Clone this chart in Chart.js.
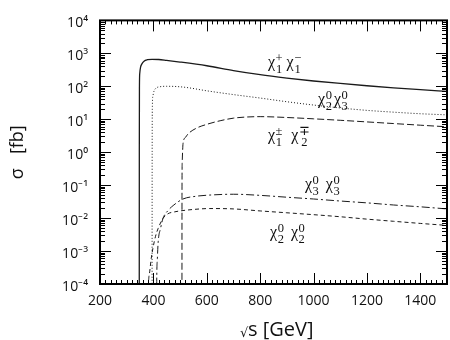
<!DOCTYPE html>
<html><head><meta charset="utf-8">
<script src="https://cdn.jsdelivr.net/npm/chart.js@4/dist/chart.umd.min.js"></script>
<style>html,body{margin:0;padding:0;background:#fff;}#wrap{width:450px;height:340px;}</style>
</head><body><div id="wrap"><canvas id="c" width="450" height="340"></canvas></div>
<script>
// ---- data ----
const xTickValues = [200, 400, 600, 800, 1000, 1200, 1400];
const yTickValues = [1e-4, 1e-3, 1e-2, 1e-1, 1e0, 1e1, 1e2, 1e3, 1e4];

const sqrtS_c1pc1m = [347, 347.3, 347.8, 349, 352, 357, 365, 378, 395, 420, 450, 500, 600, 700, 800, 900, 1000, 1100, 1200, 1300, 1400, 1500];
const sigma_c1pc1m = [1e-6, 1, 100, 250, 380, 480, 580, 640, 660, 650, 610, 545, 420, 300, 225, 178, 145, 122, 104, 90, 79, 70];

const sqrtS_c20c30 = [395, 395.3, 396, 398, 402, 410, 425, 450, 480, 520, 600, 700, 800, 900, 1000, 1100, 1200, 1300, 1400, 1500];
const sigma_c20c30 = [1e-6, 0.1, 20, 50, 70, 88, 97, 100, 99, 93, 73, 56, 44, 34, 27, 22, 18.6, 16.4, 14.7, 13.6];

const sqrtS_c1pmc2mp = [507, 507.2, 508, 511, 520, 530, 560, 600, 650, 700, 750, 800, 900, 1000, 1100, 1200, 1300, 1400, 1500];
const sigma_c1pmc2mp = [1e-6, 0.05, 0.5, 1.8, 2.8, 3.6, 5.3, 7, 9, 10.8, 11.7, 12, 11.3, 10.3, 9.3, 8.3, 7.4, 6.6, 5.9];

const sqrtS_c30c30 = [411, 412.5, 415, 418, 427, 436, 455, 474, 511, 560, 611, 700, 800, 900, 1000, 1100, 1200, 1300, 1400, 1500];
const sigma_c30c30 = [1e-6, 1.2e-4, 6e-4, 0.0019, 0.0049, 0.0098, 0.017, 0.024, 0.038, 0.046, 0.050, 0.053, 0.049, 0.043, 0.038, 0.033, 0.029, 0.025, 0.022, 0.019];

const sqrtS_c20c20 = [380, 381, 385, 392, 399, 408, 418, 436, 455, 480, 500, 550, 611, 700, 800, 900, 1000, 1100, 1200, 1300, 1400, 1500];
const sigma_c20c20 = [1e-6, 5e-5, 2e-4, 6e-4, 0.0013, 0.0028, 0.0049, 0.0098, 0.0136, 0.0155, 0.0165, 0.0183, 0.0195, 0.019, 0.0165, 0.0145, 0.0127, 0.011, 0.0093, 0.008, 0.0069, 0.006];

// ---- curve labels: [sup, sub] per chi ----
const curveLabels = [
  { at: [829, 383],   gap: 4, parts: [['+', '1'], ['\u2212', '1']] },
  { at: [1017, 28.9], gap: 2, parts: [['0', '2'], ['0', '3']] },
  { at: [829, 2.34],  gap: 9, parts: [['\u00b1', '1'], ['\u2213', '2']] },
  { at: [968, 0.078], gap: 7, parts: [['0', '3'], ['0', '3']] },
  { at: [837, 0.0026], gap: 7, parts: [['0', '2'], ['0', '2']] }
];

function pts(xs, ys) { return xs.map((x, i) => ({ x: x, y: ys[i] })); }
const supMap = { '0': '\u2070', '1': '\u00b9', '2': '\u00b2', '3': '\u00b3', '4': '\u2074', '-': '\u207b' };
function sup(s) { return s.split('').map(c => supMap[c] || c).join(''); }

const lineBase = { borderColor: '#1a1a1a', pointRadius: 0, fill: false, cubicInterpolationMode: 'monotone' };

const frameAndLabels = {
  id: 'frameAndLabels',
  afterDraw(chart) {
    const ctx = chart.ctx, xs = chart.scales.x, ys = chart.scales.y;
    const { left, right, top, bottom } = chart.chartArea;
    ctx.save();
    ctx.strokeStyle = '#000';
    ctx.lineWidth = 1;
    ctx.beginPath();
    for (let v = 200; v <= 1500; v += 20) {
      const px = Math.round(xs.getPixelForValue(v)) + 0.5;
      const L = (v % 200 === 0) ? 11 : 4;
      ctx.moveTo(px, bottom); ctx.lineTo(px, bottom - L);
      ctx.moveTo(px, top); ctx.lineTo(px, top + L);
    }
    for (let e = -4; e <= 3; e++) {
      for (let m = 1; m <= 9; m++) {
        const py = Math.round(ys.getPixelForValue(m * Math.pow(10, e))) + 0.5;
        const L = (m === 1) ? 11 : 5;
        ctx.moveTo(left, py); ctx.lineTo(left + L, py);
        ctx.moveTo(right, py); ctx.lineTo(right - L, py);
      }
    }
    ctx.stroke();
    ctx.lineWidth = 2;
    ctx.strokeRect(left, top, right - left, bottom - top);

    // curve labels
    ctx.fillStyle = '#111';
    ctx.textBaseline = 'alphabetic';
    ctx.textAlign = 'left';
    curveLabels.forEach(lab => {
      let x = xs.getPixelForValue(lab.at[0]);
      const B = ys.getPixelForValue(lab.at[1]);
      lab.parts.forEach((p, i) => {
        ctx.font = '16px "Liberation Serif"';
        ctx.fillText('\u03c7', x, B);
        x += ctx.measureText('\u03c7').width + 0.5;
        ctx.font = '12.5px "Liberation Serif"';
        const w = Math.max(ctx.measureText(p[0]).width, ctx.measureText(p[1]).width);
        ctx.textAlign = 'center';
        ctx.fillText(p[0], x + w / 2, B - 5);
        ctx.fillText(p[1], x + w / 2, B + 6);
        ctx.textAlign = 'left';
        x += w + (i === 0 ? lab.gap : 0);
      });
    });

    // x-axis title
    ctx.font = '20px "Open Sans"';
    ctx.fillText('s [GeV]', 248, 336);
    ctx.font = '13px "DejaVu Sans"';
    ctx.fillText('\u221a', 240, 337);
    ctx.restore();
  }
};

new Chart(document.getElementById('c'), {
  type: 'line',
  data: {
    datasets: [
      Object.assign({ label: 'chi1+ chi1-', data: pts(sqrtS_c1pc1m, sigma_c1pc1m), borderWidth: 1.3 }, lineBase),
      Object.assign({ label: 'chi20 chi30', data: pts(sqrtS_c20c30, sigma_c20c30), borderWidth: 1, borderDash: [1, 2] }, lineBase),
      Object.assign({ label: 'chi1+- chi2-+', data: pts(sqrtS_c1pmc2mp, sigma_c1pmc2mp), borderWidth: 1, borderDash: [7, 3] }, lineBase),
      Object.assign({ label: 'chi30 chi30', data: pts(sqrtS_c30c30, sigma_c30c30), borderWidth: 1, borderDash: [8, 3, 2, 3] }, lineBase),
      Object.assign({ label: 'chi20 chi20', data: pts(sqrtS_c20c20, sigma_c20c20), borderWidth: 1, borderDash: [4, 3] }, lineBase)
    ]
  },
  options: {
    responsive: false,
    animation: false,
    devicePixelRatio: 1,
    layout: { padding: { top: 13, right: 3, left: 0, bottom: 0 } },
    plugins: { legend: { display: false }, tooltip: { enabled: false } },
    scales: {
      x: {
        type: 'linear', min: 200, max: 1500,
        grid: { display: false, drawTicks: false },
        border: { display: false },
        afterBuildTicks: s => { s.ticks = xTickValues.map(v => ({ value: v })); },
        afterFit: s => { s.height = 56; },
        ticks: { color: '#111', font: { family: 'Open Sans', size: 14 }, padding: 9, maxRotation: 0, autoSkip: false,
          callback: v => String(v) }
      },
      y: {
        type: 'logarithmic', min: 1e-4, max: 1e4,
        grid: { display: false, drawTicks: false },
        border: { display: false },
        afterBuildTicks: s => { s.ticks = yTickValues.map(v => ({ value: v })); },
        afterFit: s => { s.width = 100; },
        ticks: {
          color: '#111', font: { family: 'Open Sans', size: 14 }, padding: 12, labelOffset: 3, autoSkip: false,
          callback: v => '10' + sup(String(Math.round(Math.log10(v))))
        },
        title: { display: true, text: '\u03c3   [fb]', color: '#111', font: { family: 'Open Sans', size: 18 }, padding: { top: 7, bottom: 0 } }
      }
    }
  },
  plugins: [frameAndLabels]
});
</script>
</body></html>
